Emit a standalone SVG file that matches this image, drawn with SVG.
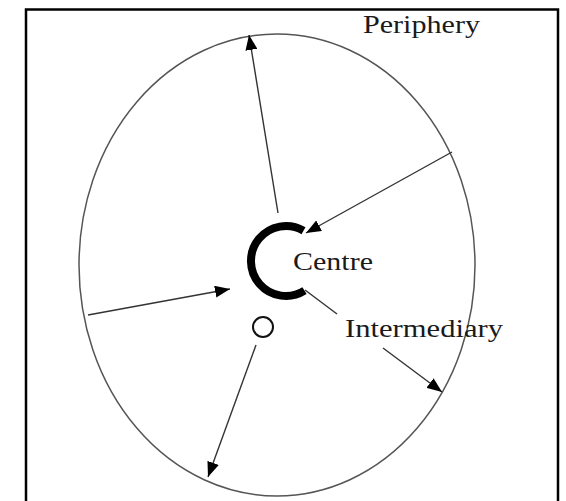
<svg xmlns="http://www.w3.org/2000/svg" width="566" height="501" viewBox="0 0 566 501">
  <style>
    .lbl { font-family: "Liberation Serif", "Times New Roman", serif; font-size: 25px; fill: #1a1a1a; }
    .conn { stroke: #333; stroke-width: 1.4; fill: none; }
  </style>
  <defs>
    <marker id="ah" markerUnits="userSpaceOnUse" markerWidth="16" markerHeight="12" refX="15" refY="6" orient="auto">
      <path d="M0,0 L15,6 L0,12 z" fill="#000"/>
    </marker>
  </defs>
  <rect x="0" y="0" width="566" height="501" fill="#fff"/>
  <rect id="frame" x="26" y="9.5" width="532" height="520" fill="none" stroke="#000" stroke-width="2.5"/>

  <g id="periphery">
    <ellipse cx="277" cy="265" rx="198" ry="231" fill="none" stroke="#555" stroke-width="1.5"/>
    <text class="lbl" x="363" y="33" textLength="117" lengthAdjust="spacingAndGlyphs">Periphery</text>
  </g>

  <g id="centre">
    <path d="M303.5,230.7 A35,35 0 1 0 304.5,290.7" fill="none" stroke="#000" stroke-width="8"/>
    <text class="lbl" x="293" y="270" textLength="80" lengthAdjust="spacingAndGlyphs">Centre</text>
  </g>

  <g id="intermediary">
    <circle cx="263" cy="327" r="10" fill="none" stroke="#111" stroke-width="2"/>
    <text class="lbl" x="345" y="337" textLength="158" lengthAdjust="spacingAndGlyphs">Intermediary</text>
  </g>

  <g id="connectors">
    <line class="conn" x1="278" y1="213" x2="249" y2="35" marker-end="url(#ah)"/>
    <line class="conn" x1="452" y1="152" x2="306" y2="233" marker-end="url(#ah)"/>
    <line class="conn" x1="88" y1="315" x2="230" y2="289" marker-end="url(#ah)"/>
    <line class="conn" x1="256" y1="345" x2="208" y2="477" marker-end="url(#ah)"/>
    <line class="conn" x1="305" y1="290" x2="337" y2="314"/>
    <line class="conn" x1="383" y1="348" x2="442" y2="392" marker-end="url(#ah)"/>
  </g>
</svg>
